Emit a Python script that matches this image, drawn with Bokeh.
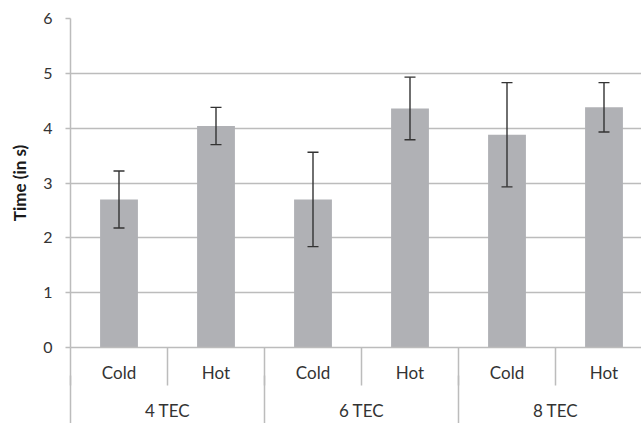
from bokeh.plotting import figure
from bokeh.models import (ColumnDataSource, Range1d, LinearAxis, FixedTicker,
                          Whisker, TeeHead)
from bokeh.embed import file_html
from bokeh.resources import INLINE

# ---- data ----
groups = ["4 TEC", "6 TEC", "8 TEC"]
conditions = ["Cold", "Hot"]
means = [2.70, 4.04, 2.70, 4.36, 3.88, 4.38]
errors = [0.52, 0.34, 0.86, 0.57, 0.95, 0.45]
y_ticks = [0, 1, 2, 3, 4, 5, 6]

n_cond = len(conditions)
labels = [c for g in groups for c in conditions]
xpos = [i + 0.5 for i in range(len(labels))]
group_centers = [gi * n_cond + n_cond / 2 for gi in range(len(groups))]
group_bounds = [gi * n_cond for gi in range(len(groups) + 1)]
inner_bounds = list(range(len(labels) + 1))

src = ColumnDataSource(dict(
    x=xpos, top=means,
    upper=[m + e for m, e in zip(means, errors)],
    lower=[m - e for m, e in zip(means, errors)],
))

FONT = "Lato"
GRID = "#BCBCBC"
TXT = "#333333"

p = figure(width=641, height=423, output_backend="svg", toolbar_location=None,
           x_range=Range1d(0, 571 / 97), y_range=Range1d(0, 6),
           min_border_left=70, min_border_right=0, min_border_top=18,
           min_border_bottom=71, x_axis_location=None)
p.outline_line_color = None
p.background_fill_color = "white"
p.border_fill_color = "white"

p.vbar(x="x", top="top", width=0.39, source=src,
       fill_color="#B0B1B5", line_color=None)

w = Whisker(base="x", upper="upper", lower="lower", source=src,
            line_color="#333333", line_width=1.4, level="overlay",
            upper_head=TeeHead(size=11, line_color="#333333", line_width=1.4),
            lower_head=TeeHead(size=11, line_color="#333333", line_width=1.4))
p.add_layout(w)

# y axis
p.yaxis.ticker = FixedTicker(ticks=y_ticks)
p.yaxis.axis_label = "Time (in s)"
p.yaxis.axis_label_text_font = FONT
p.yaxis.axis_label_text_font_style = "bold"
p.yaxis.axis_label_text_font_size = "17px"
p.yaxis.axis_label_text_color = "#1a1a1a"
p.yaxis.axis_label_standoff = 10
p.yaxis.major_label_text_font = FONT
p.yaxis.major_label_text_font_size = "16px"
p.yaxis.major_label_text_color = TXT
p.yaxis.major_label_standoff = 13
p.yaxis.axis_line_color = GRID
p.yaxis.axis_line_width = 1.5
p.yaxis.major_tick_line_color = GRID
p.yaxis.major_tick_line_width = 1.5
p.yaxis.major_tick_out = 5
p.yaxis.major_tick_in = 0
p.yaxis.minor_tick_line_color = None

p.xgrid.grid_line_color = None
p.ygrid.grid_line_color = GRID
p.ygrid.grid_line_width = 1.5

# first x axis: conditions
ax1 = LinearAxis(ticker=FixedTicker(ticks=xpos, minor_ticks=inner_bounds),
                 major_label_overrides={x: l for x, l in zip(xpos, labels)})
ax1.axis_line_color = GRID
ax1.axis_line_width = 1.5
ax1.major_tick_out = 0
ax1.major_tick_in = 0
ax1.major_tick_line_color = None
ax1.minor_tick_out = 38
ax1.minor_tick_in = 0
ax1.minor_tick_line_color = GRID
ax1.minor_tick_line_width = 1.5
ax1.major_label_text_font = FONT
ax1.major_label_text_font_size = "17px"
ax1.major_label_text_color = TXT
ax1.major_label_standoff = -24
p.add_layout(ax1, "below")

# second x axis: groups and long separators
ax2 = LinearAxis(ticker=FixedTicker(ticks=group_centers, minor_ticks=group_bounds),
                 major_label_overrides={x: g for x, g in zip(group_centers, groups)})
ax2.axis_line_color = None
ax2.major_tick_out = 0
ax2.major_tick_in = 0
ax2.major_tick_line_color = None
ax2.minor_tick_out = 45
ax2.minor_tick_in = 10
ax2.minor_tick_line_color = GRID
ax2.minor_tick_line_width = 1.5
ax2.major_label_text_font = FONT
ax2.major_label_text_font_size = "17px"
ax2.major_label_text_color = TXT
ax2.major_label_standoff = -31
p.add_layout(ax2, "below")

open("out.html", "w").write(file_html(p, INLINE))
